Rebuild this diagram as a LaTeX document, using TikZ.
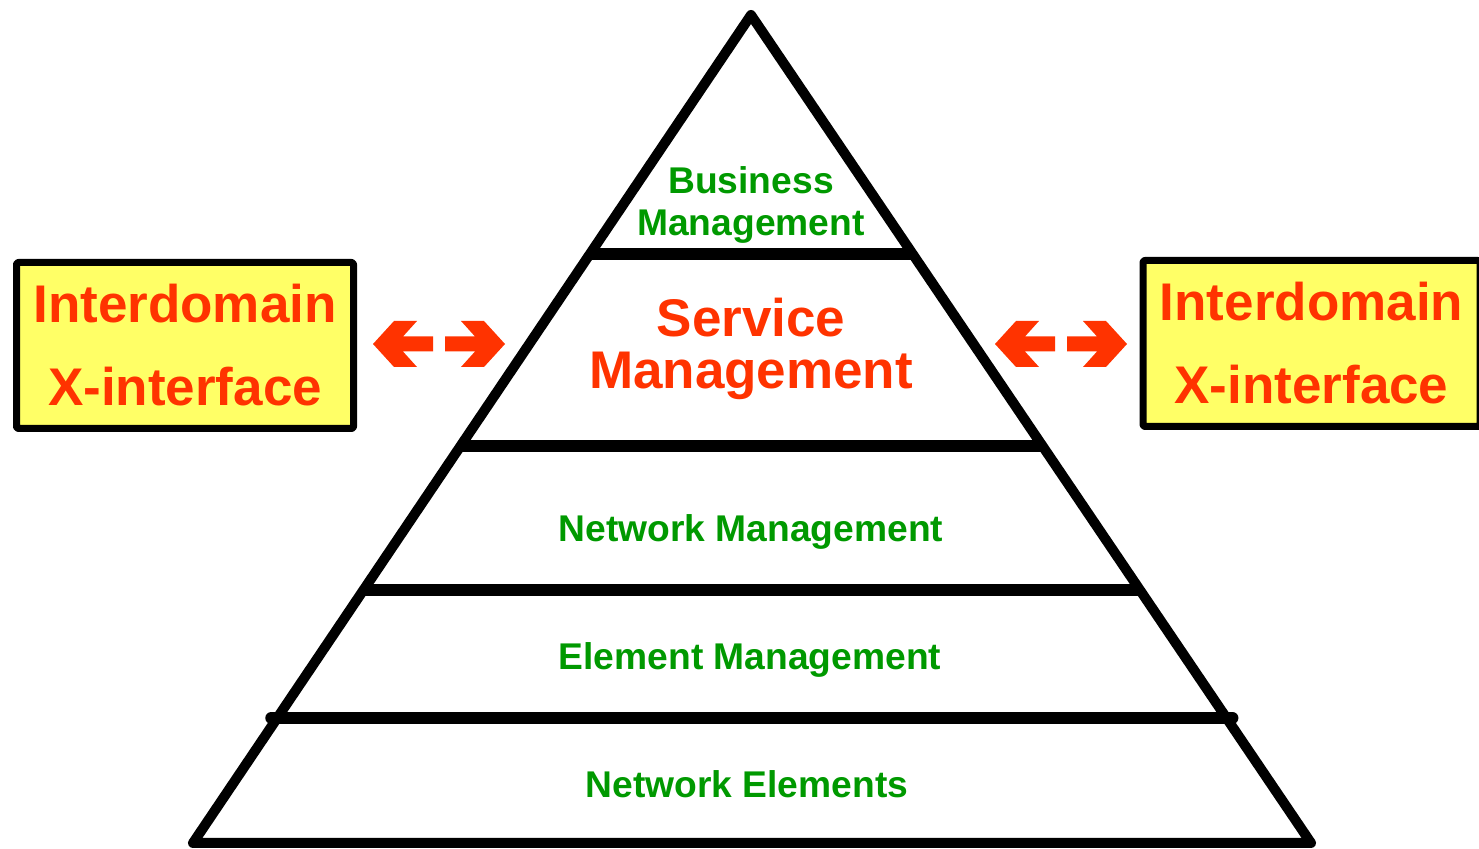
\documentclass[tikz,border=0pt]{standalone}
\usepackage{fontspec}
\setmainfont{Liberation Sans}
\usetikzlibrary{calc}
\usetikzlibrary{positioning}
\definecolor{xred}{HTML}{FF3300}
\definecolor{xyellow}{HTML}{FFFF66}
\definecolor{xgreen}{HTML}{009900}

\begin{document}
\begin{tikzpicture}[x=0.5pt, y=-0.5pt, line join=round,
    edge/.style={line width=5pt},
    bar/.style={line width=6pt},
    layer/.style={text=xgreen, font=\fontsize{18.6}{21}\selectfont\bfseries, align=center, inner sep=0pt},
    xbox/.style={draw, line width=3.5pt, fill=xyellow, rounded corners=1pt, minimum width=168.5pt, minimum height=83pt, inner sep=0pt,
        text=xred, font=\fontsize{26.5}{41.5}\selectfont\bfseries, align=center},
    xarrow/.pic={\fill[xred] (0,0) -- (21,-23) -- (44,-23) -- (30,-7.5) -- (60,-7.5) -- (60,7.5) -- (30,7.5) -- (44,23) -- (21,23) -- cycle;}]
        \useasboundingbox (0,0) rectangle (1479,849);
        % Corners of the pyramid
        \coordinate (apex) at (751,15);
        \coordinate (bl) at (193,843);
        \coordinate (br) at (1311,843);
        % Outline
        \draw[edge] (apex) -- (bl) -- (br) -- cycle;
        % Layer bars
        \draw[bar] ($(apex)!0.2886!(bl)$) -- ($(apex)!0.2886!(br)$);
        \draw[bar] ($(apex)!0.5205!(bl)$) -- ($(apex)!0.5205!(br)$);
        \draw[bar] ($(apex)!0.6944!(bl)$) -- ($(apex)!0.6944!(br)$);
        \draw[bar, line cap=round, shorten <=-3pt, shorten >=-3pt] ($(apex)!0.849!(bl)$) -- ($(apex)!0.849!(br)$);

        % Layer labels
        \node[layer] (business) at (751,205) {Business\\Management};
        \node[layer, text=xred, font=\fontsize{26.5}{26}\selectfont\bfseries] (service) at (751,349) {Service\\Management};
        \node[layer, anchor=base] (network) at (751,542) {Network Management};
        \node[layer, anchor=base] (element) at (750,670) {Element Management};
        \node[layer, anchor=base] (elements) at (747,798) {Network Elements};

        % Interdomain boxes
        \node[xbox] (xleft) at (185,345.5) {Interdomain\\X-interface};
        \node[xbox] (xright) at (1311.5,343.5) {Interdomain\\X-interface};

        % Double arrows
        \path (373,344) pic {xarrow};
        \path (505,344) pic[xscale=-1] {xarrow};
        \path (995,344) pic {xarrow};
        \path (1127,344) pic[xscale=-1] {xarrow};
    \end{tikzpicture}
\end{document}
